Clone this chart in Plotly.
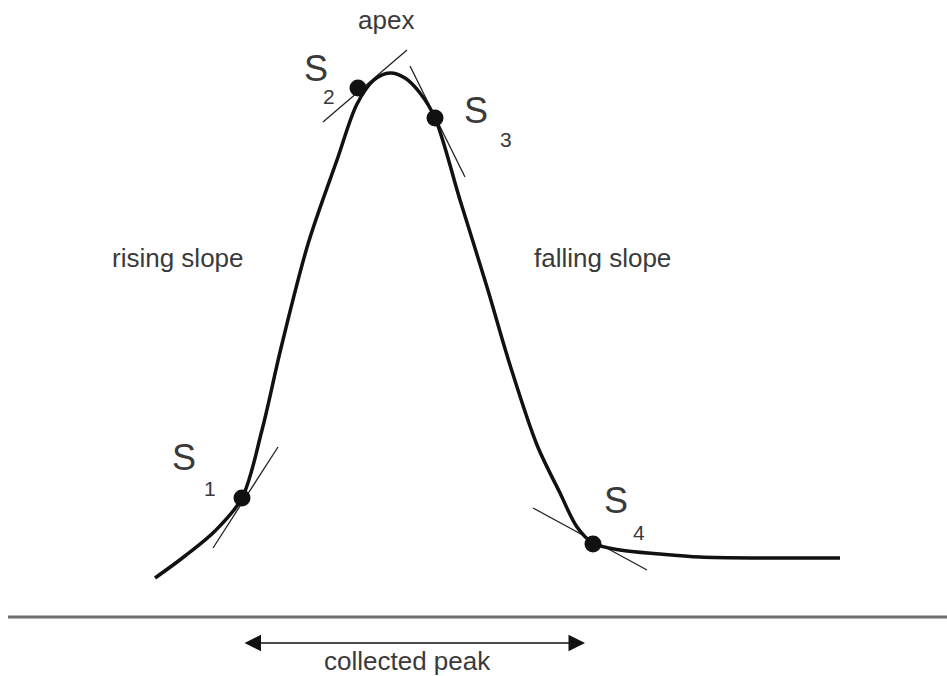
import plotly.graph_objects as go

# Peak profile (diagram units: x to the right, y downward like the drawing)
curve_x = [155, 185, 215, 242, 262, 281, 308, 337, 357, 374, 390, 405, 420, 435, 460, 487, 510, 537, 560, 577, 593, 620, 660, 700, 760, 840]
curve_y = [578, 556, 531, 498, 430, 348, 244, 160, 104, 80, 73, 78, 93, 118, 200, 287, 365, 445, 493, 527, 543, 550, 554, 557, 558, 558]

# Slope points S1..S4
pt_x = [242, 358, 435, 593]
pt_y = [498, 88, 118, 544]
pt_names = ["1", "2", "3", "4"]

# Tangent segments (start x, start y, end x, end y)
tan_x0 = [213, 323, 410, 533]
tan_y0 = [548, 122, 66, 508]
tan_x1 = [278, 407, 465, 647]
tan_y1 = [447, 50, 177, 570]

# Label positions for "S" and subscript
lab_sx = [184, 316, 476, 616]
lab_sy = [457, 68, 110, 500]
lab_nx = [210, 329, 506, 639]
lab_ny = [488, 96, 139, 532]

fig = go.Figure()

for i in range(4):
    fig.add_trace(go.Scatter(x=[tan_x0[i], tan_x1[i]], y=[tan_y0[i], tan_y1[i]], mode="lines",
                             line=dict(color="#222", width=1.3), hoverinfo="skip"))

fig.add_trace(go.Scatter(x=curve_x, y=curve_y, mode="lines",
                         line=dict(color="#111", width=3.5, shape="spline", smoothing=0.9), hoverinfo="skip"))

fig.add_trace(go.Scatter(x=pt_x, y=pt_y, mode="markers",
                         marker=dict(color="#111", size=17), hoverinfo="skip"))

font_main = "Liberation Sans, Arial, sans-serif"
txtcol = "#3a3a3a"
ann = []
for i in range(4):
    ann.append(dict(x=lab_sx[i], y=lab_sy[i], text="S", showarrow=False,
                    font=dict(size=36, color=txtcol, family=font_main)))
    ann.append(dict(x=lab_nx[i], y=lab_ny[i], text=pt_names[i], showarrow=False,
                    font=dict(size=21, color=txtcol, family=font_main)))

ann.append(dict(x=386, y=20, text="apex", showarrow=False, font=dict(size=26, color=txtcol, family=font_main)))
ann.append(dict(x=178, y=258, text="rising slope", showarrow=False, font=dict(size=26, color=txtcol, family=font_main)))
ann.append(dict(x=602, y=258, text="falling slope", showarrow=False, font=dict(size=26, color=txtcol, family=font_main)))
ann.append(dict(x=407, y=661, text="collected peak", showarrow=False, font=dict(size=26, color=txtcol, family=font_main)))

# double arrow
ann.append(dict(x=585, y=643, ax=243, ay=643, xref="x", yref="y", axref="x", ayref="y",
                text="", showarrow=True, arrowhead=2, arrowside="end+start",
                arrowsize=2.2, arrowwidth=1.5, arrowcolor="#111"))

shapes = [dict(type="line", x0=8, x1=947, y0=617, y1=617, line=dict(color="#6e6e6e", width=3))]

fig.update_layout(
    width=947, height=676, margin=dict(l=0, r=0, t=0, b=0),
    plot_bgcolor="white", paper_bgcolor="white", showlegend=False,
    xaxis=dict(range=[0, 947], visible=False, fixedrange=True),
    yaxis=dict(range=[676, 0], visible=False, fixedrange=True),
    annotations=ann, shapes=shapes,
)

fig.write_html("out.html", config={"displayModeBar": False},
               post_script="document.body.style.margin='0px';document.body.style.overflow='hidden';")
